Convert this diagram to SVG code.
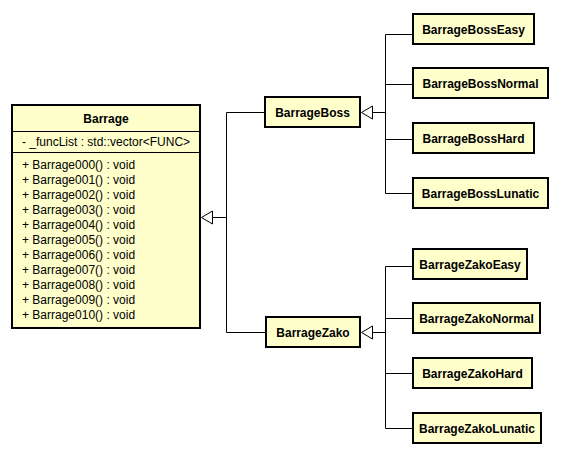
<svg xmlns="http://www.w3.org/2000/svg" width="577" height="461" viewBox="0 0 577 461">
<style>
.box{fill:#FFFFCC;stroke:#000;stroke-width:2}
.sep{stroke:#000;stroke-width:1}
.t{font-family:"Liberation Sans",Arial,sans-serif;font-size:12px;font-weight:bold;fill:#000;text-anchor:middle}
.m{font-family:"Liberation Sans",Arial,sans-serif;font-size:12px;fill:#000}
.c{fill:none;stroke:#000;stroke-width:1}
.tri{fill:#fff;stroke:#000;stroke-width:1}
</style>
<rect width="577" height="461" fill="#fff"/>
<g id="connectors">
<path class="c" d="M212,217.5H226.5M226.5,112.5V332.5M226.5,112.5H265M226.5,332.5H265"/>
<polygon class="tri" points="201.5,217.5 212.5,211 212.5,224"/>
<path class="c" d="M372,112.5H385.5M385.5,34.5V193.5M385.5,34.5H412M385.5,84.5H412M385.5,139.5H412M385.5,193.5H412"/>
<polygon class="tri" points="361.5,112.5 372.5,106 372.5,119"/>
<path class="c" d="M372,332.5H385.5M385.5,266.5V428.5M385.5,266.5H412M385.5,318.5H412M385.5,373.5H412M385.5,428.5H412"/>
<polygon class="tri" points="361.5,332.5 372.5,326 372.5,339"/>
</g>
<g id="Barrage">
<rect class="box" x="12" y="105" width="188" height="223"/>
<line class="sep" x1="12" y1="131.5" x2="200" y2="131.5"/>
<line class="sep" x1="12" y1="152.5" x2="200" y2="152.5"/>
<text class="t" x="106" y="123">Barrage</text>
<text class="m" x="22" y="145.5">- _funcList : std::vector&lt;FUNC&gt;</text>
<text class="m" x="22" y="168.5">+ Barrage000() : void</text>
<text class="m" x="22" y="183.5">+ Barrage001() : void</text>
<text class="m" x="22" y="198.5">+ Barrage002() : void</text>
<text class="m" x="22" y="213.5">+ Barrage003() : void</text>
<text class="m" x="22" y="228.5">+ Barrage004() : void</text>
<text class="m" x="22" y="243.5">+ Barrage005() : void</text>
<text class="m" x="22" y="258.5">+ Barrage006() : void</text>
<text class="m" x="22" y="273.5">+ Barrage007() : void</text>
<text class="m" x="22" y="288.5">+ Barrage008() : void</text>
<text class="m" x="22" y="303.5">+ Barrage009() : void</text>
<text class="m" x="22" y="318.5">+ Barrage010() : void</text>
</g>
<g id="BarrageBoss">
<rect class="box" x="265" y="97" width="95" height="30"/>
<text class="t" x="312.5" y="116.5">BarrageBoss</text>
</g>
<g id="BarrageZako">
<rect class="box" x="266" y="317" width="94" height="30"/>
<text class="t" x="313" y="336.5">BarrageZako</text>
</g>
<g id="BarrageBossEasy">
<rect class="box" x="413" y="14" width="121" height="30"/>
<text class="t" x="473.5" y="33.5">BarrageBossEasy</text>
</g>
<g id="BarrageBossNormal">
<rect class="box" x="413" y="68" width="135" height="30"/>
<text class="t" x="480.5" y="87.5">BarrageBossNormal</text>
</g>
<g id="BarrageBossHard">
<rect class="box" x="413" y="123" width="121" height="30"/>
<text class="t" x="473.5" y="142.5">BarrageBossHard</text>
</g>
<g id="BarrageBossLunatic">
<rect class="box" x="413" y="178" width="135" height="30"/>
<text class="t" x="480.5" y="197.5">BarrageBossLunatic</text>
</g>
<g id="BarrageZakoEasy">
<rect class="box" x="413" y="249" width="114" height="30"/>
<text class="t" x="470" y="268.5">BarrageZakoEasy</text>
</g>
<g id="BarrageZakoNormal">
<rect class="box" x="413" y="303" width="127" height="30"/>
<text class="t" x="476.5" y="322.5">BarrageZakoNormal</text>
</g>
<g id="BarrageZakoHard">
<rect class="box" x="413" y="358" width="119" height="30"/>
<text class="t" x="472.5" y="377.5">BarrageZakoHard</text>
</g>
<g id="BarrageZakoLunatic">
<rect class="box" x="413" y="413" width="128" height="30"/>
<text class="t" x="477" y="432.5">BarrageZakoLunatic</text>
</g>
</svg>
